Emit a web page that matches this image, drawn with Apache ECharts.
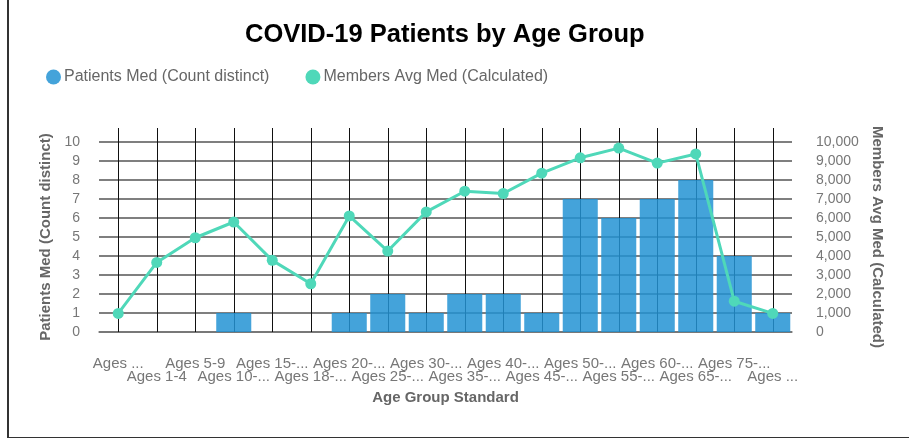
<!DOCTYPE html>
<html lang="en">
<head>
  <meta charset="UTF-8">
  <title>COVID-19 Patients by Age Group</title>
  <script src="https://cdn.jsdelivr.net/npm/echarts@6/dist/echarts.min.js"></script>
  <style>
    body{
      margin: 0;
      background: #fff;
    }
    .frame{
      position: absolute;
      left: 7px;
      top: 0;
      width: 902px;
      height: 437px;
      border-left: 2px solid #333;
      border-bottom: 1px solid #333;
    }
    #myChart{
      position: absolute;
      left: 0;
      top: 0;
      width: 909px;
      height: 442px;
    }
  </style>
</head>
<body>
  <div class="frame"></div>
  <div id="myChart"></div>
<script>
// x轴分类（原图中已截断的标签）
let categories = ['Ages ...', 'Ages 1-4', 'Ages 5-9', 'Ages 10-...', 'Ages 15-...', 'Ages 18-...',
  'Ages 20-...', 'Ages 25-...', 'Ages 30-...', 'Ages 35-...', 'Ages 40-...', 'Ages 45-...',
  'Ages 50-...', 'Ages 55-...', 'Ages 60-...', 'Ages 65-...', 'Ages 75-...', 'Ages ...'];
// 柱状：Patients Med (Count distinct)
let patients = [null, null, null, 1, null, null, 1, 2, 1, 2, 2, 1, 7, 6, 7, 8, 4, 1];
// 折线：Members Avg Med (Calculated)
let members = [980, 3660, 4960, 5790, 3770, 2540, 6110, 4260, 6320, 7410, 7290, 8360, 9170, 9680, 8890, 9370, 1620, 980];
let leftTicks = [0, 10, 1];
let rightTicks = [0, 10000, 1000];

let fontName = 'Liberation Sans';
let labelGray = '#777';
let barColor = 'rgba(35,147,211,0.85)';
let lineColor = '#4fd8b9';

let myChart = echarts.init(document.getElementById('myChart'));
let option = {
  textStyle: { fontFamily: fontName },
  title: {
    text: 'COVID-19 Patients by Age Group',
    left: 240,
    top: 17,
    textStyle: { color: '#000', fontSize: 25.5, fontWeight: 'bold', fontFamily: fontName }
  },
  legend: {
    left: 41,
    top: 64,
    icon: 'circle',
    itemWidth: 15,
    itemHeight: 15,
    itemGap: 36,
    textStyle: { color: '#666', fontSize: 16, padding: [0, 0, 0, -2] },
    data: ['Patients Med (Count distinct)', 'Members Avg Med (Calculated)']
  },
  grid: {
    left: 99,
    right: 117,
    top: 142,
    bottom: 110
  },
  xAxis: {
    type: 'category',
    data: categories,
    name: 'Age Group Standard',
    nameLocation: 'middle',
    nameGap: 58,
    nameTextStyle: { color: '#666', fontSize: 15, fontWeight: 'bold' },
    axisLine: { lineStyle: { color: '#777', width: 1.5 } },
    axisTick: {
      show: true,
      inside: true,
      alignWithLabel: true,
      length: 204,
      lineStyle: { color: '#111', width: 1 }
    },
    axisLabel: {
      interval: 0,
      margin: 25,
      color: labelGray,
      fontSize: 15,
      lineHeight: 13,
      formatter: function (v, i) { return i % 2 ? '\n' + v : v; }
    },
    splitLine: { show: false }
  },
  yAxis: [
    {
      type: 'value',
      min: leftTicks[0],
      max: leftTicks[1],
      interval: leftTicks[2],
      name: 'Patients Med (Count distinct)',
      nameLocation: 'middle',
      nameGap: 42,
      nameTextStyle: { color: '#666', fontSize: 15, fontWeight: 'bold' },
      axisLine: { show: false },
      axisTick: { show: false },
      axisLabel: { color: labelGray, fontSize: 14, margin: 19 },
      splitLine: { lineStyle: { color: '#555', width: 1.5 } }
    },
    {
      type: 'value',
      min: rightTicks[0],
      max: rightTicks[1],
      interval: rightTicks[2],
      name: 'Members Avg Med (Calculated)',
      nameLocation: 'middle',
      nameGap: 65,
      nameRotate: -90,
      nameTextStyle: { color: '#666', fontSize: 15, fontWeight: 'bold' },
      axisLine: { show: false },
      axisTick: { show: false },
      axisLabel: { color: labelGray, fontSize: 14, margin: 24 },
      splitLine: { show: false }
    }
  ],
  series: [
    {
      name: 'Patients Med (Count distinct)',
      type: 'bar',
      yAxisIndex: 0,
      barCategoryGap: '9%',
      itemStyle: { color: barColor },
      data: patients
    },
    {
      name: 'Members Avg Med (Calculated)',
      type: 'line',
      yAxisIndex: 1,
      symbol: 'circle',
      symbolSize: 11,
      lineStyle: { color: lineColor, width: 3 },
      itemStyle: { color: lineColor },
      data: members
    }
  ]
};
myChart.setOption(option);
</script>
</body>
</html>
